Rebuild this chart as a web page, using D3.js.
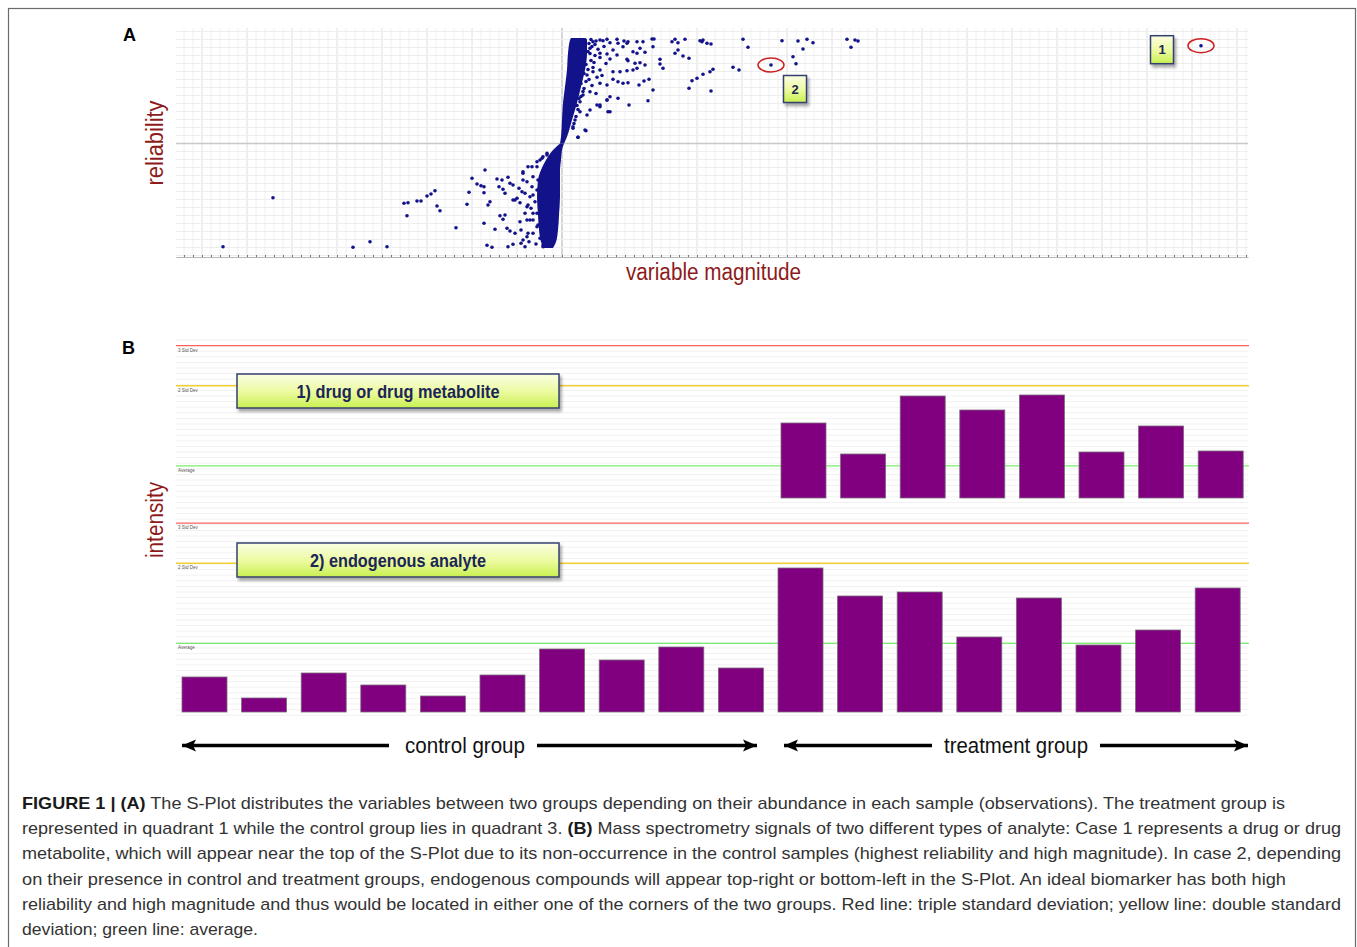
<!DOCTYPE html>
<html>
<head>
<meta charset="utf-8">
<script src="https://cdn.jsdelivr.net/npm/d3@7/dist/d3.min.js"></script>
<style>
  body { margin: 0; background: #fff; }
  svg { display: block; }
</style>
</head>
<body>
<svg id="fig" width="1357" height="947"></svg>
<script>
// ---------- data ----------
// S-plot: magnitude p[1] vs reliability p(corr)
const magDomain = [-0.386, 0.686];
const relDomain = [-1.135, 1.135];

// dense S-shaped core, [reliability, leftMagnitude, rightMagnitude]
const coreLower = [
  [0.000, -0.002, 0.002], [-0.065, -0.009, 0.000], [-0.165, -0.016, -0.001],
  [-0.265, -0.021, -0.002], [-0.365, -0.024, -0.002], [-0.535, -0.025, -0.002],
  [-0.715, -0.024, -0.003], [-0.865, -0.023, -0.004], [-0.985, -0.021, -0.006],
  [-1.045, -0.018, -0.009]
];
const coreUpper = [
  [0.000, -0.002, 0.002], [0.068, -0.001, 0.005], [0.235, 0.000, 0.010],
  [0.405, 0.001, 0.015], [0.568, 0.003, 0.019], [0.735, 0.005, 0.023],
  [0.902, 0.006, 0.025], [1.035, 0.008, 0.025], [1.055, 0.009, 0.023]
];

// quadrant 3 variables [magnitude, reliability]
const lowerPoints = [
  [-0.339, -1.032], [-0.289, -0.542], [-0.209, -1.038], [-0.192, -0.982], [-0.175, -1.032],
  [-0.158, -0.598], [-0.154, -0.592], [-0.155, -0.722], [-0.145, -0.575], [-0.141, -0.575],
  [-0.135, -0.525], [-0.131, -0.505], [-0.127, -0.472], [-0.125, -0.625], [-0.122, -0.672],
  [-0.106, -0.842], [-0.095, -0.608], [-0.093, -0.488], [-0.090, -0.348], [-0.085, -0.405],
  [-0.081, -0.422], [-0.078, -0.432], [-0.078, -0.492], [-0.077, -0.265], [-0.078, -0.798],
  [-0.075, -1.018], [-0.070, -1.038], [-0.072, -0.582], [-0.074, -0.615], [-0.067, -0.858],
  [-0.065, -0.355], [-0.060, -0.365], [-0.063, -0.432], [-0.059, -0.458], [-0.057, -0.498],
  [-0.054, -0.338], [-0.052, -0.398], [-0.049, -0.415], [-0.062, -0.722], [-0.059, -0.758],
  [-0.057, -0.715], [-0.054, -1.032], [-0.049, -1.008], [-0.055, -0.848], [-0.052, -0.875],
  [-0.047, -0.898], [-0.047, -0.565], [-0.045, -0.548], [-0.042, -0.592], [-0.040, -0.482],
  [-0.043, -0.448], [-0.039, -0.298], [-0.039, -0.282], [-0.041, -0.998], [-0.037, -1.032],
  [-0.039, -0.965], [-0.037, -0.698], [-0.034, -0.615], [-0.035, -0.765], [-0.041, -0.865],
  [-0.042, -0.782], [-0.025, -0.182], [-0.020, -0.148], [-0.015, -0.115], [-0.030, -0.232],
  [-0.049, -0.565], [-0.029, -0.698], [-0.025, -0.832], [-0.035, -0.932], [-0.019, -1.015],
  [-0.029, -0.515], [-0.022, -0.365], [-0.032, -0.765], [-0.022, -0.165], [-0.025, -0.232],
  [-0.019, -0.132], [-0.015, -0.098], [-0.029, -0.332], [-0.024, -0.365], [-0.030, -0.432],
  [-0.025, -0.465], [-0.032, -0.532], [-0.027, -0.582], [-0.031, -0.648], [-0.025, -0.698],
  [-0.029, -0.765], [-0.024, -0.815], [-0.029, -0.898], [-0.022, -0.948], [-0.026, -1.005],
  [-0.019, -1.032], [-0.035, -0.382], [-0.037, -0.498], [-0.035, -0.632], [-0.034, -0.898],
  [-0.033, -0.982], [-0.020, -0.298], [-0.034, -0.232], [-0.039, -0.365]
];

// quadrant 1 variables [magnitude, reliability]
const upperPoints = [
  [0.023, 1.035], [0.031, 1.018], [0.038, 1.035], [0.041, 1.028], [0.045, 1.042],
  [0.048, 1.008], [0.055, 1.042], [0.056, 1.002], [0.062, 1.025], [0.065, 1.002],
  [0.066, 1.018], [0.075, 1.018], [0.081, 1.018], [0.090, 1.045], [0.092, 1.045],
  [0.110, 1.018], [0.113, 1.042], [0.116, 1.008], [0.123, 1.042], [0.138, 1.028],
  [0.140, 1.018], [0.141, 1.035], [0.145, 1.002], [0.149, 0.995], [0.181, 1.042],
  [0.220, 1.028], [0.236, 1.025], [0.245, 1.042], [0.251, 1.008], [0.285, 1.042],
  [0.293, 1.035], [0.296, 1.025], [0.186, 0.962], [0.241, 0.945], [0.289, 0.962],
  [0.061, 0.968], [0.078, 0.952], [0.091, 0.968], [0.071, 0.918], [0.075, 0.902],
  [0.083, 0.912], [0.051, 0.935], [0.036, 0.942], [0.028, 0.952], [0.038, 0.902],
  [0.045, 0.895], [0.055, 0.885], [0.065, 0.842], [0.048, 0.845], [0.066, 0.828],
  [0.073, 0.802], [0.078, 0.808], [0.083, 0.785], [0.098, 0.842], [0.101, 0.752],
  [0.113, 0.902], [0.116, 0.935], [0.121, 0.875], [0.127, 0.852], [0.098, 0.795],
  [0.171, 0.762], [0.177, 0.735], [0.231, 0.868], [0.234, 0.798], [0.151, 0.742],
  [0.148, 0.718], [0.141, 0.692], [0.135, 0.652], [0.130, 0.628], [0.127, 0.552],
  [0.149, 0.525], [0.091, 0.535], [0.087, 0.642], [0.082, 0.625], [0.077, 0.585],
  [0.066, 0.608], [0.061, 0.602], [0.056, 0.618], [0.051, 0.642], [0.045, 0.585],
  [0.038, 0.602], [0.035, 0.662], [0.031, 0.718], [0.025, 0.685], [0.038, 0.735],
  [0.051, 0.718], [0.058, 0.718], [0.065, 0.728], [0.071, 0.735], [0.075, 0.752],
  [0.048, 0.468], [0.056, 0.452], [0.067, 0.385], [0.086, 0.428], [0.035, 0.385],
  [0.038, 0.368], [0.045, 0.435], [0.048, 0.318], [0.028, 0.335], [0.025, 0.285],
  [0.018, 0.318], [0.024, 0.128], [0.016, 0.062], [0.011, 0.152], [0.013, 0.235],
  [0.021, 0.485], [0.028, 0.518], [0.018, 0.418], [0.045, 0.435], [0.038, 0.385],
  [0.046, 0.318], [0.023, 0.135], [0.016, 0.062], [0.011, 0.168], [0.027, 1.000],
  [0.030, 0.970], [0.026, 0.920], [0.033, 0.880], [0.029, 0.830], [0.024, 0.790],
  [0.031, 0.760], [0.022, 0.700], [0.027, 0.640], [0.019, 0.600], [0.022, 0.550],
  [0.017, 0.450], [0.015, 0.380], [0.033, 0.990], [0.042, 0.970], [0.038, 0.860],
  [0.044, 0.800], [0.040, 0.680], [0.030, 0.580], [0.034, 0.500], [0.029, 1.040],
  [0.034, 1.025], [0.028, 0.900], [0.032, 0.810], [0.026, 0.740], [0.024, 0.620],
  [0.021, 0.520], [0.019, 0.470], [0.016, 0.340], [0.014, 0.270], [0.012, 0.200]
];

// highlighted variables
const case1Point = [0.639, 0.978];   // drug or drug metabolite
const case2Point = [0.209, 0.785];   // endogenous analyte

// Mass spectrometry intensities per sample
const samples = ['C1', 'C2', 'C3', 'C4', 'C5', 'C6', 'C7', 'C8', 'C9', 'C10',
                 'T1', 'T2', 'T3', 'T4', 'T5', 'T6', 'T7', 'T8'];
const drugIntensity = [0, 0, 0, 0, 0, 0, 0, 0, 0, 0, 75, 44, 102, 88, 103, 46, 72, 47];
const endoIntensity = [35, 14, 39, 27, 16, 37, 63, 52, 65, 44, 144, 116, 120, 75, 114, 67, 82, 124];

const captionLines = [
  [['FIGURE 1 | (A)', true], [' The S-Plot distributes the variables between two groups depending on their abundance in each sample (observations). The treatment group is', false]],
  [['represented in quadrant 1 while the control group lies in quadrant 3. ', false], ['(B)', true], [' Mass spectrometry signals of two different types of analyte: Case 1 represents a drug or drug', false]],
  [['metabolite, which will appear near the top of the S-Plot due to its non-occurrence in the control samples (highest reliability and high magnitude). In case 2, depending', false]],
  [['on their presence in control and treatment groups, endogenous compounds will appear top-right or bottom-left in the S-Plot. An ideal biomarker has both high', false]],
  [['reliability and high magnitude and thus would be located in either one of the corners of the two groups. Red line: triple standard deviation; yellow line: double standard', false]],
  [['deviation; green line: average.', false]]
];
const captionWidths = [1263, 1319, 1319, 1264, 1319, 236];

// ---------- drawing ----------
const svg = d3.select('#fig');
const narrow = '"Liberation Sans Narrow", "Liberation Sans", Arial, sans-serif';
const sans = '"Liberation Sans", Arial, sans-serif';
const darkRed = '#8e1b1b';
const dotColor = '#12128a';

const defs = svg.append('defs');
const grad = defs.append('linearGradient').attr('id', 'boxGrad')
  .attr('x1', 0).attr('y1', 0).attr('x2', 0).attr('y2', 1);
grad.append('stop').attr('offset', '0%').attr('stop-color', '#fbfee4');
grad.append('stop').attr('offset', '55%').attr('stop-color', '#ebfa9c');
grad.append('stop').attr('offset', '100%').attr('stop-color', '#c8f050');
defs.append('filter').attr('id', 'shadow')
  .attr('x', '-10%').attr('y', '-20%').attr('width', '130%').attr('height', '170%')
  .append('feDropShadow').attr('dx', 2).attr('dy', 3).attr('stdDeviation', 1.6)
  .attr('flood-color', '#000').attr('flood-opacity', 0.35);

// outer frame
svg.append('rect').attr('x', 8.5).attr('y', 8.5).attr('width', 1347).attr('height', 960)
  .attr('fill', 'none').attr('stroke', '#6a6a6a').attr('stroke-width', 1.2);

function badge(g, cx, cy, w, h, label, size, fam, len) {
  g.append('rect').attr('x', cx - w / 2).attr('y', cy - h / 2).attr('width', w).attr('height', h)
    .attr('fill', 'url(#boxGrad)').attr('stroke', '#36416e').attr('stroke-width', 1.5)
    .attr('filter', 'url(#shadow)');
  const t = g.append('text').attr('x', cx).attr('y', cy + size * 0.36)
    .attr('text-anchor', 'middle').attr('font-family', fam).attr('font-weight', 'bold')
    .attr('font-size', size).attr('fill', '#1b2558').text(label);
  if (len) t.attr('textLength', len).attr('lengthAdjust', 'spacingAndGlyphs');
}

// ===== Panel A : S-plot =====
const xA = d3.scaleLinear().domain(magDomain).range([176, 1248]);
const yA = d3.scaleLinear().domain(relDomain).range([257, 30]);
const gA = svg.append('g');

const xStep = 0.009;
const xTicks = d3.range(Math.ceil(magDomain[0] / xStep), Math.floor(magDomain[1] / xStep) + 1);
gA.append('g').selectAll('line').data(xTicks).join('line')
  .attr('x1', k => xA(k * xStep)).attr('x2', k => xA(k * xStep))
  .attr('y1', 28).attr('y2', 257)
  .attr('stroke', k => k === 0 ? '#c2c2c2' : (k % 5 === 0 ? '#e0e0e0' : '#f0f0f0'))
  .attr('stroke-width', k => k === 0 ? 1.3 : 1);

const yStep = 0.08;
const yTicks = d3.range(-14, 15);
gA.append('g').selectAll('line').data(yTicks).join('line')
  .attr('x1', 176).attr('x2', 1248)
  .attr('y1', k => yA(k * yStep)).attr('y2', k => yA(k * yStep))
  .attr('stroke', k => k === 0 ? '#c8c8c8' : '#eeeeee')
  .attr('stroke-width', k => k === 0 ? 1.3 : 1);

// bottom axis with tiny ticks
gA.append('g').attr('transform', 'translate(0,257)')
  .call(d3.axisBottom(xA).tickValues(xTicks.map(k => k * xStep)).tickSize(-2).tickSizeOuter(0).tickFormat(''))
  .call(g => g.select('.domain').attr('stroke', '#b5b5b5'))
  .call(g => g.selectAll('.tick line').attr('stroke', '#777'));

// dense core
const core = d3.area().curve(d3.curveMonotoneY)
  .y(d => yA(d[0])).x0(d => xA(d[1])).x1(d => xA(d[2]));
gA.append('path').datum(coreLower).attr('d', core).attr('fill', dotColor);
gA.append('path').datum(coreUpper).attr('d', core).attr('fill', dotColor);

gA.append('g').selectAll('circle').data(lowerPoints.concat(upperPoints, [case1Point, case2Point])).join('circle')
  .attr('cx', d => xA(d[0])).attr('cy', d => yA(d[1])).attr('r', 1.8).attr('fill', dotColor);

// highlighted variables
[case1Point, case2Point].forEach(p => {
  gA.append('ellipse').attr('cx', xA(p[0])).attr('cy', yA(p[1])).attr('rx', 13).attr('ry', 7)
    .attr('fill', 'none').attr('stroke', '#cc2020').attr('stroke-width', 1.5);
});
badge(gA, xA(case1Point[0]) - 39, yA(case1Point[1]) + 4, 23, 28, '1', 13, sans);
badge(gA, xA(case2Point[0]) + 24, yA(case2Point[1]) + 24, 23, 27, '2', 13, sans);

gA.append('text').attr('x', 123).attr('y', 41).attr('font-family', sans).attr('font-weight', 'bold')
  .attr('font-size', 18).text('A');
gA.append('text').attr('transform', 'translate(163,143) rotate(-90)').attr('text-anchor', 'middle')
  .attr('font-family', narrow).attr('font-size', 23).attr('fill', darkRed)
  .attr('textLength', 85).attr('lengthAdjust', 'spacingAndGlyphs').text('reliability');
gA.append('text').attr('x', 713.5).attr('y', 280).attr('text-anchor', 'middle')
  .attr('font-family', narrow).attr('font-size', 23).attr('fill', darkRed)
  .attr('textLength', 175).attr('lengthAdjust', 'spacingAndGlyphs').text('variable magnitude');

// ===== Panel B : intensities =====
const gB = svg.append('g');
gB.append('g').selectAll('line').data(d3.range(340, 718, 5.6)).join('line')
  .attr('x1', 176).attr('x2', 1248).attr('y1', d => d).attr('y2', d => d)
  .attr('stroke', '#f1f1f1');

function intensityPanel(values, base, x0) {
  const x = d3.scaleBand().domain(samples).range([x0, x0 + 1072.8]).paddingInner(0.245).paddingOuter(0.1225);
  const y = d3.scaleLinear().domain([0, 200]).range([base, base - 200]);
  const avg = d3.mean(values), sd = d3.deviation(values);
  const refs = [
    { v: avg + 3 * sd, c: '#ff6060', label: '3 Std Dev' },
    { v: avg + 2 * sd, c: '#f2d030', label: '2 Std Dev' },
    { v: avg, c: '#78ee6c', label: 'Average' }
  ];
  const g = gB.append('g');
  g.selectAll('line.ref').data(refs).join('line').attr('class', 'ref')
    .attr('x1', 176).attr('x2', 1249).attr('y1', d => y(d.v)).attr('y2', d => y(d.v))
    .attr('stroke', d => d.c).attr('stroke-width', 1.3);
  g.selectAll('text.ref').data(refs).join('text').attr('class', 'ref')
    .attr('x', 178).attr('y', d => y(d.v) + 6).attr('font-family', sans).attr('font-size', 4.5)
    .attr('fill', '#555').text(d => d.label);
  g.selectAll('rect').data(samples.map((s, i) => ({ s, v: values[i] })).filter(d => d.v > 0)).join('rect')
    .attr('x', d => x(d.s)).attr('width', x.bandwidth())
    .attr('y', d => y(d.v)).attr('height', d => y(0) - y(d.v))
    .attr('fill', '#800080').attr('stroke', '#7a6a7a').attr('stroke-width', 0.8);
  return g;
}
const g1 = intensityPanel(drugIntensity, 498, 177.7);
const g2 = intensityPanel(endoIntensity, 712, 174.7);
badge(g1, 398, 391, 322, 34, '1) drug or drug metabolite', 19, narrow, 203);
badge(g2, 398, 560, 322, 34, '2) endogenous analyte', 19, narrow, 176);

gB.append('text').attr('x', 122).attr('y', 354).attr('font-family', sans).attr('font-weight', 'bold')
  .attr('font-size', 18).text('B');
gB.append('text').attr('transform', 'translate(163,520) rotate(-90)').attr('text-anchor', 'middle')
  .attr('font-family', narrow).attr('font-size', 23).attr('fill', darkRed)
  .attr('textLength', 76).attr('lengthAdjust', 'spacingAndGlyphs').text('intensity');

// group arrows
function arrow(xs, xe, y, dir) {
  gB.append('line').attr('x1', xs).attr('x2', xe).attr('y1', y).attr('y2', y)
    .attr('stroke', '#000').attr('stroke-width', 3.5);
  const tip = dir < 0 ? xs : xe;
  const back = tip - dir * 14;
  gB.append('path').attr('d', `M${tip},${y} L${back},${y - 6} L${back + dir * 3},${y} L${back},${y + 6} Z`)
    .attr('fill', '#000');
}
const groups = [
  { label: 'control group', cx: 465, len: 120, x0: 182, x1: 757, gapL: 389, gapR: 537 },
  { label: 'treatment group', cx: 1016, len: 144, x0: 784, x1: 1248, gapL: 932, gapR: 1100 }
];
groups.forEach(gr => {
  arrow(gr.x0, gr.gapL, 745.5, -1);
  arrow(gr.gapR, gr.x1, 745.5, 1);
  gB.append('text').attr('x', gr.cx).attr('y', 753).attr('text-anchor', 'middle')
    .attr('font-family', narrow).attr('font-size', 22).attr('fill', '#111')
    .attr('textLength', gr.len).attr('lengthAdjust', 'spacingAndGlyphs').text(gr.label);
});

// ===== caption =====
const cap = svg.append('g').attr('font-family', narrow).attr('font-size', 17).attr('fill', '#333');
captionLines.forEach((segs, i) => {
  const t = cap.append('text').attr('x', 22).attr('y', 809 + i * 25.2)
    .attr('textLength', captionWidths[i]).attr('lengthAdjust', 'spacingAndGlyphs');
  segs.forEach(([s, b]) => t.append('tspan').attr('font-weight', b ? 'bold' : null)
    .attr('fill', b ? '#1a1a1a' : null).text(s));
});
</script>
</body>
</html>
